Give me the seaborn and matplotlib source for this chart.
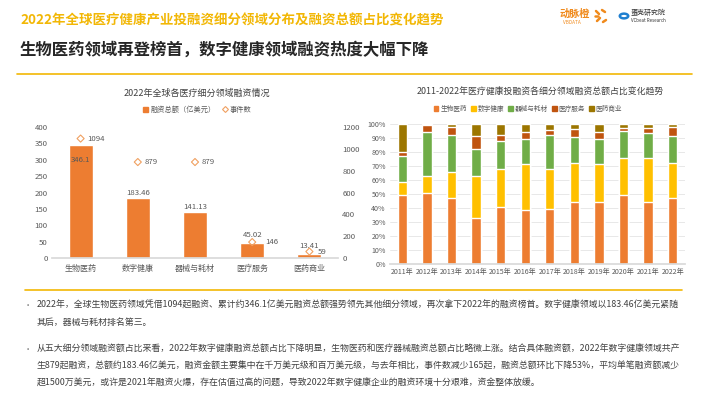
import numpy as np
import pandas as pd
import matplotlib
matplotlib.use("Agg")
import matplotlib.pyplot as plt
from matplotlib.lines import Line2D
from matplotlib.patches import Patch, Circle
import seaborn as sns

# left chart data
fields = ["生物医药", "数字健康", "器械与耗材", "医疗服务", "医药商业"]
amount = [346.1, 183.46, 141.13, 45.02, 13.41]   # 亿美元
events = [1094, 879, 879, 146, 59]

# right chart data (% share per year)
years = ["2011年", "2012年", "2013年", "2014年", "2015年", "2016年",
         "2017年", "2018年", "2019年", "2020年", "2021年", "2022年"]
share_bio = [49, 51, 47, 33, 40.5, 38.5, 39, 44, 44, 49, 44.5, 47]
share_digital = [9.5, 12, 19, 30, 27.5, 33, 29, 28.5, 27.5, 26.5, 31, 25.5]
share_device = [19, 31.5, 26.5, 19.5, 20, 17.5, 24, 18, 17.5, 19.5, 18, 19]
share_service = [2.5, 4.5, 5.5, 9, 4.5, 5, 4, 6, 5, 2, 3.5, 6.5]
share_commerce = [20, 1, 2, 8.5, 7.5, 6, 4, 3.5, 6, 3, 3, 2]

sns.set_theme(style="white")
plt.rcParams["font.family"] = ["Noto Sans CJK SC", "DejaVu Sans"]

W, H = 710, 399
fig = plt.figure(figsize=(W / 100, H / 100), dpi=100)
fig.patch.set_facecolor("white")


def px(x, y):
    return x / W, 1 - y / H


def box(x0, y0, x1, y1):
    return [x0 / W, 1 - y1 / H, (x1 - x0) / W, (y1 - y0) / H]


ORANGE = "#ED7D31"
YELLOW = "#FFC000"
GREEN = "#70AD47"
BROWN = "#C0540F"
OLIVE = "#9C7600"
GOLD = "#F2B705"
TICK = "#595959"

# ---- header ----
fig.text(*px(20, 20), "2022年全球医疗健康产业投融资细分领域分布及融资总额占比变化趋势",
         color=GOLD, fontsize=9.7, fontweight="bold", va="center")
fig.text(*px(20, 50), "生物医药领域再登榜首，数字健康领域融资热度大幅下降",
         color="#262626", fontsize=11.8, fontweight="bold", va="center")
fig.add_artist(Line2D([17 / W, 692 / W], [1 - 74 / H] * 2, color=GOLD, lw=1.2))

# logos
fig.text(*px(560, 14), "动脉橙", color="#F08A1C", fontsize=7.3, fontweight="bold", va="center")
fig.text(*px(563, 23), "VBDATA", color="#F08A1C", fontsize=3.4, va="center")
for (x0, y0, x1, y1) in [(596, 11, 599, 14), (602, 10, 605, 12), (597, 21, 600, 18),
                         (603, 22, 606, 20), (595, 16, 598, 16)]:
    fig.add_artist(Line2D([x0 / W, x1 / W], [1 - y0 / H, 1 - y1 / H],
                          color="#F08A1C", lw=1.8, solid_capstyle="round"))
fig.add_artist(Circle(px(624, 16), 4.2 / W, transform=fig.transFigure, fill=False,
                      edgecolor="#1E7FD0", lw=1.8))
fig.text(*px(631, 13), "蛋壳研究院", color="#333333", fontsize=5, va="center")
fig.text(*px(631, 21), "VCbeat Research", color="#333333", fontsize=3.2, va="center")

# ---- left chart ----
ax = fig.add_axes(box(52, 127, 338, 258))
sns.barplot(x=fields, y=amount, ax=ax, color=ORANGE, saturation=1, width=0.42)
ax.set_ylim(0, 400)
ax.set_yticks(range(0, 401, 50))
ax.set_xlim(-0.5, 4.5)
ax.set_xlabel("")
ax.set_ylabel("")
ax2 = ax.twinx()
sns.scatterplot(x=np.arange(len(fields)), y=events, ax=ax2, marker="D", s=13,
                facecolor="none", edgecolor="#F0A060", linewidth=0.8)
ax2.set_ylim(0, 1200)
ax2.set_yticks(range(0, 1201, 200))
ax2.set_xlim(-0.5, 4.5)
ax2.set_ylabel("")
for a in (ax, ax2):
    for s in a.spines.values():
        s.set_visible(False)
    a.tick_params(length=0, labelsize=5.6, colors=TICK, pad=3)
ax.spines["bottom"].set_visible(True)
ax.spines["bottom"].set_color("#D9D9D9")
ax.tick_params(axis="x", pad=4, labelsize=5.8)

amount_label_y = [299, 197, 155, 70, 37]
for i, v in enumerate(amount):
    ax.text(i, amount_label_y[i], f"{v:g}", ha="center", va="center", fontsize=5.6, color=TICK)
event_label_dx = [0.12, 0.12, 0.12, 0.22, 0.15]
for i, e in enumerate(events):
    ax2.text(i + event_label_dx[i], e, str(e), ha="left", va="center", fontsize=5.6, color=TICK)

fig.text(*px(197, 93), "2022年全球各医疗细分领域融资情况", ha="center", va="center",
         fontsize=6.5, color="#404040")
h1 = [Patch(color=ORANGE, label="融资总额（亿美元）"),
      Line2D([], [], marker="D", ls="none", mfc="none", mec="#F0A060", ms=3, mew=0.8, label="事件数")]
fig.legend(handles=h1, loc="center", bbox_to_anchor=px(197, 110), ncol=2, frameon=False,
           fontsize=5.2, handlelength=0.8, handleheight=0.8, handletextpad=0.3,
           columnspacing=0.8, labelcolor=TICK)

# ---- right chart ----
axr = fig.add_axes(box(390, 124, 685, 264))
layers = [share_bio, share_digital, share_device, share_service, share_commerce]
names = ["生物医药", "数字健康", "器械与耗材", "医疗服务", "医药商业"]
colors = [ORANGE, YELLOW, GREEN, BROWN, OLIVE]
df = pd.DataFrame({n: l for n, l in zip(names, layers)}, index=years)
cum = df.cumsum(axis=1)
for n, c in reversed(list(zip(names, colors))):
    sns.barplot(x=years, y=cum[n].values, ax=axr, color=c, saturation=1, width=0.38, zorder=2)
axr.set_ylim(0, 100)
axr.set_xlim(-0.5, 11.5)
axr.set_yticks(range(0, 101, 10))
axr.set_yticklabels([f"{t}%" for t in range(0, 101, 10)])
axr.yaxis.grid(True, color="#E4E4E4", lw=0.6, zorder=0)
axr.set_axisbelow(True)
for s in axr.spines.values():
    s.set_visible(False)
axr.spines["bottom"].set_visible(True)
axr.spines["bottom"].set_color("#D9D9D9")
axr.tick_params(length=0, labelsize=5.1, colors=TICK, pad=3)
axr.set_xlabel("")
axr.set_ylabel("")

fig.text(*px(540, 92), "2011-2022年医疗健康投融资各细分领域融资总额占比变化趋势",
         ha="center", va="center", fontsize=6.4, color="#404040")
h2 = [Patch(color=c, label=n) for n, c in zip(names, colors)]
fig.legend(handles=h2, loc="center", bbox_to_anchor=px(528, 109), ncol=5, frameon=False,
           fontsize=4.8, handlelength=0.7, handleheight=0.7, handletextpad=0.3,
           columnspacing=0.6, labelcolor=TICK)

# ---- text block ----
fig.add_artist(Line2D([25 / W, 682 / W], [1 - 290 / H] * 2, color=GOLD, lw=1.2))
body = "#404040"
lines = [
    (305, True, "2022年，全球生物医药领域凭借1094起融资、累计约346.1亿美元融资总额强势领先其他细分领域，再次拿下2022年的融资榜首。数字健康领域以183.46亿美元紧随"),
    (322, False, "其后，器械与耗材排名第三。"),
    (349, True, "从五大细分领域融资额占比来看，2022年数字健康融资总额占比下降明显，生物医药和医疗器械融资总额占比略微上涨。结合具体融资额，2022年数字健康领域共产"),
    (366, False, "生879起融资，总额约183.46亿美元，融资金额主要集中在千万美元级和百万美元级，与去年相比，事件数减少165起，融资总额环比下降53%，平均单笔融资额减少"),
    (383, False, "超1500万美元，或许是2021年融资火爆，存在估值过高的问题，导致2022年数字健康企业的融资环境十分艰难，资金整体放缓。"),
]
for y, bullet, t in lines:
    if bullet:
        fig.text(*px(24, y), "•", fontsize=6, color="#808080", va="center")
    fig.text(*px(37, y), t, fontsize=6.42, color=body, va="center")

fig.savefig("out.png", dpi=100, facecolor="white")
